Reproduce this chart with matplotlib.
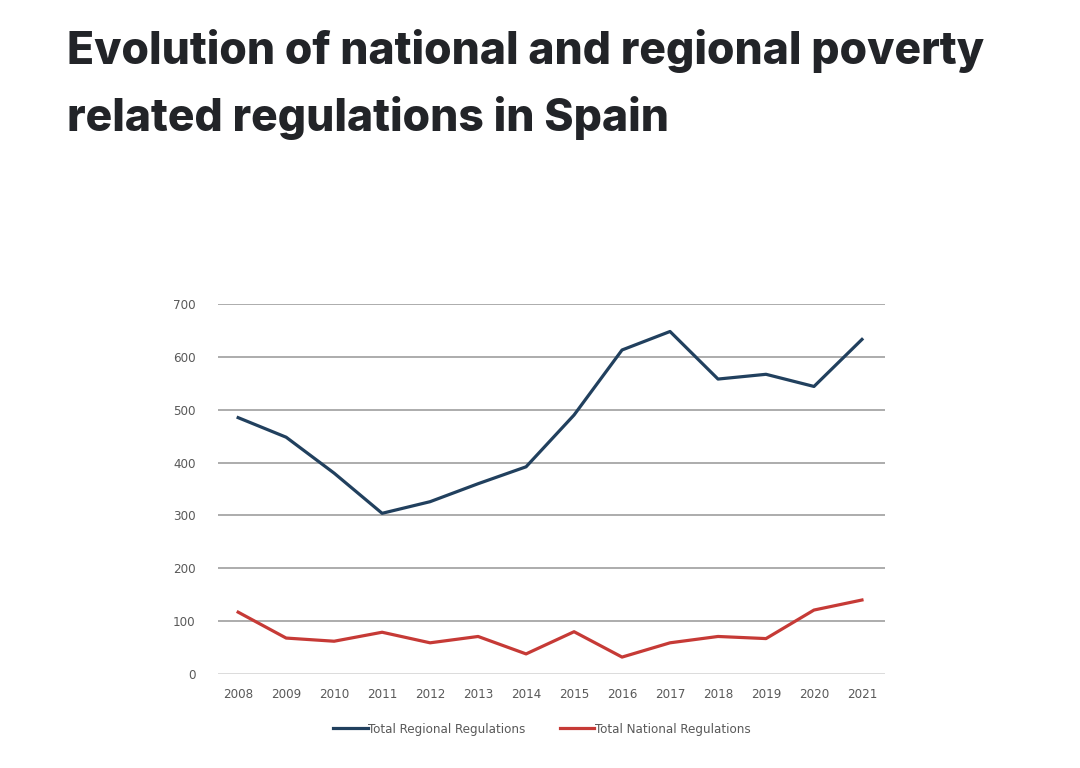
import matplotlib
matplotlib.use("Agg")
import matplotlib.pyplot as plt

years = ["2008", "2009", "2010", "2011", "2012", "2013", "2014",
         "2015", "2016", "2017", "2018", "2019", "2020", "2021"]
regional = [485, 448, 380, 304, 326, 360, 392, 490, 613, 648, 558, 567, 544, 633]
national = [117, 68, 62, 79, 59, 71, 38, 80, 32, 59, 71, 67, 121, 140]
yticks = [0, 100, 200, 300, 400, 500, 600, 700]
series_names = ["Total Regional Regulations", "Total National Regulations"]

fig = plt.figure(figsize=(10.8, 7.68), dpi=100)
fig.patch.set_facecolor("white")

for txt, yb in [("Evolution of national and regional poverty", 64),
                ("related regulations in Spain", 131)]:
    fig.text(67/1080, 1 - yb/768, txt,
             family="Inter", weight=800, fontsize=32, color="#222428",
             ha="left", va="baseline")

ax = fig.add_axes([218/1080, 1 - 674/768, (885-218)/1080, (674-304)/768])
x = list(range(len(years)))
ax.plot(x, regional, color="#21405e", lw=2.3, label=series_names[0], solid_joinstyle="round")
ax.plot(x, national, color="#c63a36", lw=2.3, label=series_names[1], solid_joinstyle="round")

ax.set_ylim(0, 700)
ax.set_xlim(-0.42, 13.48)
ax.set_yticks(yticks)
ax.set_xticks(x)
ax.set_xticklabels(years)
for lab in ax.get_xticklabels() + ax.get_yticklabels():
    lab.set_fontfamily("DejaVu Sans")
    lab.set_fontstretch("condensed")
    lab.set_fontsize(9.5)
    lab.set_color("#595959")
ax.tick_params(length=0)
ax.tick_params(axis="y", pad=16)
ax.tick_params(axis="x", pad=10)
for s in ax.spines.values():
    s.set_visible(False)
for v in yticks:
    ax.axhline(v, color="#d9d9d9" if v == 0 else "#a6a6a6", lw=1.3, zorder=0)

leg = fig.legend(loc="center", bbox_to_anchor=(0.502, 1 - 729/768), ncol=2,
                 frameon=False, handlelength=2.6, handletextpad=0.05,
                 columnspacing=2.6,
                 prop=dict(family="DejaVu Sans", stretch="condensed", size=9.5))
for t in leg.get_texts():
    t.set_color("#595959")

fig.savefig("out.png", dpi=100, facecolor="white")
